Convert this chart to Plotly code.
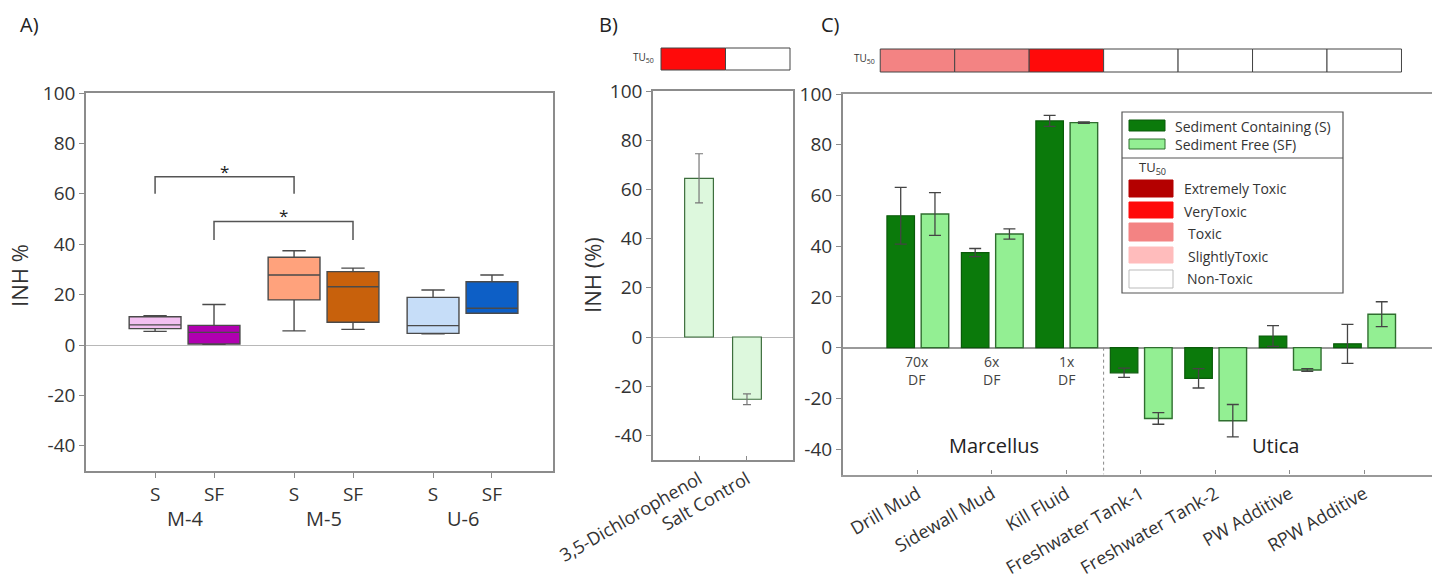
import plotly.graph_objects as go

W, H = 1432, 582
FONT = "Open Sans"
TXT = "#333333"

# ---------------- Panel A data (box plots) ----------------
a_groups = ["M-4", "M-5", "U-6"]
a_sub = ["S", "SF"]
a_q1 = [6.5, 0.4, 17.9, 9.0, 4.6, 12.6]
a_med = [8.0, 5.0, 27.8, 23.1, 7.7, 14.6]
a_q3 = [11.2, 7.8, 34.8, 29.1, 18.9, 25.1]
a_low = [5.4, 0.3, 5.6, 6.2, 4.4, 12.6]
a_high = [11.6, 16.1, 37.4, 30.5, 21.8, 27.8]
a_colors = ["#f3c0f1", "#b000b0", "#ffa27c", "#c8610c", "#c6ddf8", "#0d5fc6"]
a_off = 0.212

# ---------------- Panel B data ----------------
b_cats = ["3,5-Dichlorophenol", "Salt Control"]
b_vals = [64.5, -25.3]
b_err = [10.0, 2.2]
b_tu = ["#ff0a0a", "#ffffff"]

# ---------------- Panel C data ----------------
c_cats = ["Drill Mud", "Sidewall Mud", "Kill Fluid", "Freshwater Tank-1",
          "Freshwater Tank-2", "PW Additive", "RPW Additive"]
c_s = [52.0, 37.5, 89.4, -9.9, -12.1, 4.6, 1.5]
c_s_err = [11.2, 1.6, 2.2, 1.8, 3.8, 4.1, 7.7]
c_sf = [52.7, 44.8, 88.7, -27.9, -28.8, -8.8, 13.2]
c_sf_err = [8.4, 2.0, 0.3, 2.3, 6.4, 0.5, 4.9]
c_tu_class = ["Toxic", "Toxic", "VeryToxic", "Non-Toxic", "Non-Toxic", "Non-Toxic", "Non-Toxic"]
c_dil = ["70x<br>DF", "6x<br>DF", "1x<br>DF"]

tu_names = ["Extremely Toxic", "VeryToxic", "Toxic", "SlightlyToxic", "Non-Toxic"]
tu_colors = {"Extremely Toxic": "#b40000", "VeryToxic": "#ff0a0a", "Toxic": "#f38383",
             "SlightlyToxic": "#ffbcbc", "Non-Toxic": "#ffffff"}
S_COL, SF_COL = "#0b7a0b", "#93ef93"


def xp(px):
    return px / W


def yp(py):
    return 1 - py / H


fig = go.Figure()

# Panel A boxes
k = 0
for gi, g in enumerate(a_groups):
    for si, s in enumerate(a_sub):
        pos = gi + (-a_off if si == 0 else a_off)
        fig.add_trace(go.Box(
            x=[pos], q1=[a_q1[k]], median=[a_med[k]], q3=[a_q3[k]],
            lowerfence=[a_low[k]], upperfence=[a_high[k]],
            fillcolor=a_colors[k], line=dict(color="#4a4a4a", width=1.4),
            width=0.373, whiskerwidth=0.45, boxpoints=False, showlegend=False,
            xaxis="x", yaxis="y", hoverinfo="skip"))
        k += 1

# Panel B bars
fig.add_trace(go.Bar(
    x=b_cats, y=b_vals, width=0.6, marker=dict(color="#ddf8dd", line=dict(color="#3d6e3d", width=1.2)),
    error_y=dict(type="data", array=b_err, color="#777777", thickness=1.2, width=4),
    xaxis="x2", yaxis="y2", showlegend=False))

# Panel C bars
fig.add_trace(go.Bar(
    x=c_cats, y=c_s, offset=-0.41, width=0.37,
    marker=dict(color=S_COL, line=dict(color="#0a5a0a", width=1.2)),
    error_y=dict(type="data", array=c_s_err, color="#444444", thickness=1.3, width=6),
    xaxis="x3", yaxis="y3", showlegend=False))
fig.add_trace(go.Bar(
    x=c_cats, y=c_sf, offset=0.05, width=0.37,
    marker=dict(color=SF_COL, line=dict(color="#2f6e2f", width=1.4)),
    error_y=dict(type="data", array=c_sf_err, color="#444444", thickness=1.3, width=6),
    xaxis="x3", yaxis="y3", showlegend=False))

ytv = [-40, -20, 0, 20, 40, 60, 80, 100]
ytt = ["-40", "-20", "0", "20", "40", "60", "80", "100"]
axcol = "#8c8c8c"
tickfont = dict(family=FONT, size=19, color=TXT)
cattickfont = dict(family=FONT, size=18, color=TXT)

common_y = dict(range=[-50, 100], tickvals=ytv, ticktext=ytt, ticks="outside", ticklen=5,
                tickcolor=axcol, showline=True, linecolor=axcol, showgrid=False, automargin=False,
                zeroline=True, zerolinecolor="#b8b8b8", zerolinewidth=1, tickfont=tickfont)

a_tickvals = []
a_ticktext = []
for gi in range(len(a_groups)):
    a_tickvals += [gi - a_off, gi + a_off]
    a_ticktext += a_sub

fig.update_layout(
    width=W, height=H, margin=dict(l=0, r=0, t=0, b=0, autoexpand=False),
    paper_bgcolor="white", plot_bgcolor="white",
    boxmode="overlay", barmode="overlay",
    font=dict(family=FONT, color=TXT),
    xaxis=dict(domain=[xp(86), xp(553)], range=[-0.709, 2.651], tickvals=a_tickvals, ticktext=a_ticktext,
               ticks="outside", ticklen=5, tickcolor=axcol, showline=True, mirror=True,
               linecolor=axcol, linewidth=1.5, showgrid=False, zeroline=False, automargin=False,
               tickfont=dict(family=FONT, size=19, color=TXT)),
    yaxis=dict(domain=[yp(471), yp(93)], anchor="x", mirror=True, linewidth=1.5, **common_y),
    xaxis2=dict(domain=[xp(653), xp(793)], range=[-0.96, 1.96], anchor="y2", ticks="inside",
                ticklen=4, tickcolor=axcol, showline=True, mirror=True, linecolor=axcol,
                linewidth=1.5, showgrid=False, tickangle=-30, tickfont=cattickfont, automargin=False),
    yaxis2=dict(domain=[yp(460), yp(91)], anchor="x2", mirror=True, linewidth=1.5, **common_y),
    xaxis3=dict(domain=[xp(843), 1.0], range=[-1.0, 6.91], anchor="y3", ticks="inside",
                ticklen=4, tickcolor=axcol, showline=True, mirror=True, linecolor="#999999",
                linewidth=2.2, showgrid=False, tickangle=-30, tickfont=cattickfont, automargin=False),
    yaxis3=dict(domain=[yp(474.5), yp(94)], anchor="x3", linewidth=2, **common_y),
)
fig.update_layout(yaxis3_zerolinecolor="#9a9a9a", yaxis3_zerolinewidth=2)

shapes = []
ann = []


def add_text(x, y, text, size, xref="paper", yref="paper", color=TXT, xanchor="center",
             yanchor="middle", angle=0):
    ann.append(dict(x=x, y=y, xref=xref, yref=yref, text=text, showarrow=False,
                    xanchor=xanchor, yanchor=yanchor, textangle=angle,
                    font=dict(family=FONT, size=size, color=color)))


# Panel A significance brackets
def bracket(x0, x1, ytop, ybot):
    shapes.append(dict(type="path", xref="x", yref="y",
                       path=f"M {x0},{ybot} L {x0},{ytop} L {x1},{ytop} L {x1},{ybot}",
                       line=dict(color="#555555", width=1.5)))
    add_text((x0 + x1) / 2, ytop + 2.2, "*", 17, xref="x", yref="y", color="#222222")


bracket(0 - a_off, 1 - a_off, 66.8, 60.0)
bracket(0 + a_off, 1 + a_off, 49.0, 41.7)

# Panel A group labels
for gi, g in enumerate(a_groups):
    add_text(gi, yp(518), g, 20, xref="x")

# Panel labels
for lbl, px in [("A)", 30), ("B)", 608), ("C)", 830)]:
    add_text(xp(px), yp(25), lbl, 20, color="#222222")

# Y axis titles
add_text(xp(19), yp(276), "INH %", 22, angle=-90)
add_text(xp(592), yp(275), "INH (%)", 22, angle=-90)

# TU50 bars
add_text(xp(643), yp(58), "TU<sub>50</sub>", 10)
bx = [661, 725.5, 790]
for i, col in enumerate(b_tu):
    shapes.append(dict(type="rect", xref="paper", yref="paper", x0=xp(bx[i]), x1=xp(bx[i + 1]),
                       y0=yp(70), y1=yp(48), fillcolor=col, line=dict(color="#444444", width=1)))

add_text(xp(864), yp(59), "TU<sub>50</sub>", 10)
for i, cls in enumerate(c_tu_class):
    shapes.append(dict(type="rect", xref="x3", yref="paper", x0=i - 0.5, x1=i + 0.5,
                       y0=yp(72), y1=yp(49), fillcolor=tu_colors[cls],
                       line=dict(color="#444444", width=1)))

# Panel C dilution labels
for i, t in enumerate(c_dil):
    add_text(i, -0.8, t, 14, xref="x3", yref="y3", color="#444444", yanchor="top")

# Region labels and divider
add_text(1.03, -38.7, "Marcellus", 20, xref="x3", yref="y3", color="#222222")
add_text(4.81, -38.6, "Utica", 20, xref="x3", yref="y3", color="#222222")
shapes.append(dict(type="line", xref="x3", yref="y3", x0=2.5, x1=2.5, y0=0, y1=-50,
                   line=dict(color="#888888", width=1, dash="dot")))

# Custom legend in panel C
shapes.append(dict(type="rect", xref="paper", yref="paper", x0=xp(1122), x1=xp(1343),
                   y0=yp(293), y1=yp(112), fillcolor="white", line=dict(color="#555555", width=1.2),
                   layer="below"))
shapes.append(dict(type="line", xref="paper", yref="paper", x0=xp(1122), x1=xp(1343),
                   y0=yp(158), y1=yp(158), line=dict(color="#555555", width=1.2)))
leg_items = [("Sediment Containing (S)", S_COL, "#0a5a0a", 120, 131, 126),
             ("Sediment Free (SF)", SF_COL, "#2f6e2f", 139, 149, 144)]
for name, fc, lc, y0, y1, yt in leg_items:
    shapes.append(dict(type="rect", xref="paper", yref="paper", x0=xp(1129), x1=xp(1165),
                       y0=yp(y1), y1=yp(y0), fillcolor=fc, line=dict(color=lc, width=1)))
    add_text(xp(1173), yp(yt), name, 14, xanchor="left")
add_text(xp(1152), yp(168), "TU<sub>50</sub>", 13)
tu_rows = [(180, 197, 189, 1182), (202, 218, 211, 1182), (223, 241, 233, 1186),
           (247, 263, 256, 1186), (270, 288, 278, 1185)]
for name, (y0, y1, yt, tx) in zip(tu_names, tu_rows):
    shapes.append(dict(type="rect", xref="paper", yref="paper", x0=xp(1129), x1=xp(1173),
                       y0=yp(y1), y1=yp(y0), fillcolor=tu_colors[name],
                       line=dict(color="#bbbbbb" if name == "Non-Toxic" else tu_colors[name], width=1)))
    add_text(xp(tx), yp(yt), name, 14, xanchor="left")

fig.update_layout(shapes=shapes, annotations=ann)
fig.write_html("out.html")
